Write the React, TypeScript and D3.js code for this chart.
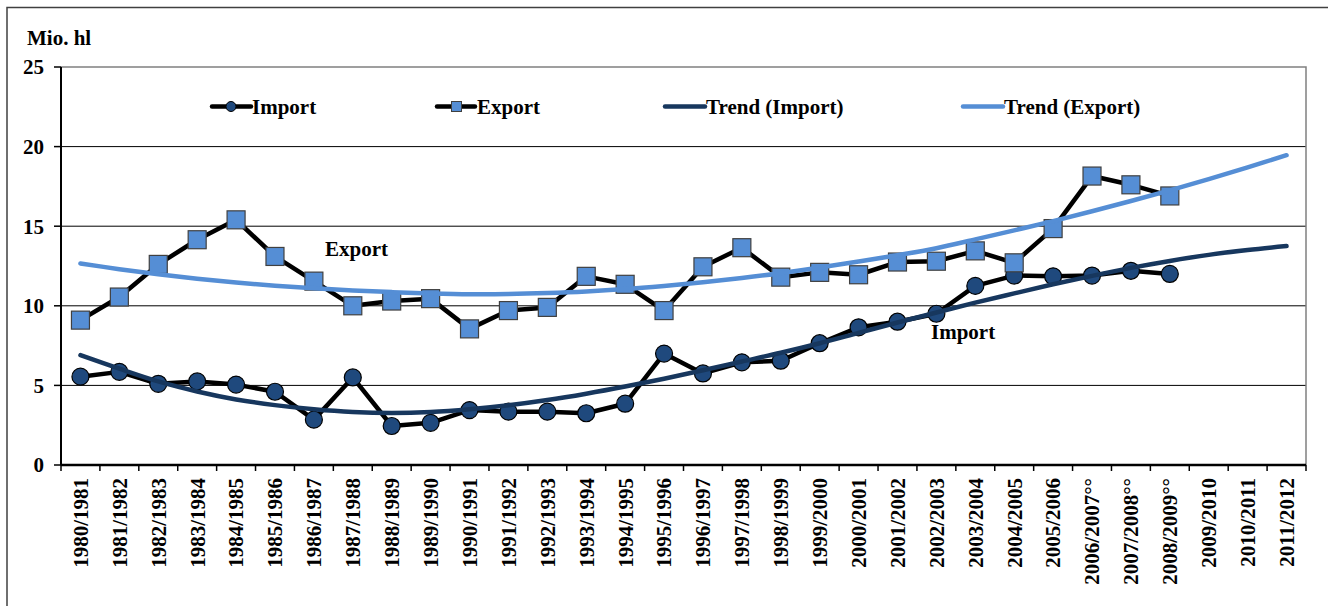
import React, { useEffect, useRef } from "react";
import * as d3 from "d3";

const seasons = [
  "1980/1981", "1981/1982", "1982/1983", "1983/1984", "1984/1985", "1985/1986",
  "1986/1987", "1987/1988", "1988/1989", "1989/1990", "1990/1991", "1991/1992",
  "1992/1993", "1993/1994", "1994/1995", "1995/1996", "1996/1997", "1997/1998",
  "1998/1999", "1999/2000", "2000/2001", "2001/2002", "2002/2003", "2003/2004",
  "2004/2005", "2005/2006", "2006/2007°°", "2007/2008°°", "2008/2009°°",
  "2009/2010", "2010/2011", "2011/2012",
];

// Mio. hl, 1980/1981 .. 2008/2009
const importValues = [
  5.55, 5.85, 5.1, 5.25, 5.05, 4.6, 2.85, 5.5, 2.45, 2.65, 3.45, 3.35, 3.35, 3.25,
  3.85, 7.0, 5.75, 6.45, 6.55, 7.65, 8.65, 9.0, 9.5, 11.25, 11.9, 11.85, 11.9, 12.2, 12.0,
];
const exportValues = [
  9.1, 10.55, 12.6, 14.15, 15.4, 13.1, 11.55, 10.0, 10.3, 10.45, 8.55, 9.7, 9.9, 11.85,
  11.35, 9.7, 12.45, 13.65, 11.8, 12.1, 11.95, 12.75, 12.8, 13.45, 12.7, 14.85, 18.15, 17.6, 16.9,
];

// trend lines, 1980/1981 .. 2011/2012
const importTrend = [
  6.9, 6.05, 5.25, 4.62, 4.12, 3.76, 3.5, 3.33, 3.27, 3.33, 3.5, 3.75, 4.08, 4.48, 4.93, 5.42,
  5.95, 6.5, 7.05, 7.65, 8.3, 8.95, 9.58, 10.2, 10.78, 11.35, 11.88, 12.38, 12.82, 13.2, 13.5, 13.75,
];
const exportTrend = [
  12.66, 12.3, 11.98, 11.7, 11.46, 11.26, 11.1, 10.96, 10.86, 10.78, 10.73, 10.74, 10.8, 10.9,
  11.05, 11.25, 11.48, 11.75, 12.05, 12.4, 12.78, 13.18, 13.62, 14.17, 14.74, 15.32, 15.94,
  16.58, 17.25, 17.96, 18.7, 19.46,
];

const yTicks = [0, 5, 10, 15, 20, 25];

const FONT = "Liberation Serif, Times New Roman, serif";
const IMPORT_FILL = "#1f497d";
const EXPORT_FILL = "#558ed5";
const IMPORT_TREND = "#17375e";

export default function App() {
  const ref = useRef<SVGSVGElement>(null);

  useEffect(() => {
    const width = 1328;
    const height = 606;
    const left = 61, right = 1306, top = 67, bottom = 465;

    const svg = d3.select(ref.current)
      .attr("width", width).attr("height", height)
      .attr("font-family", FONT).attr("font-weight", "bold").attr("font-size", 21);
    svg.selectAll("*").remove();

    // outer frame
    svg.append("rect")
      .attr("x", 7).attr("y", 7.5).attr("width", 1340).attr("height", 640)
      .attr("fill", "white").attr("stroke", "#404040").attr("stroke-width", 1.5);

    const x = d3.scaleBand().domain(seasons).range([left, right]).padding(0);
    const y = d3.scaleLinear().domain([0, 25]).range([bottom, top]);
    const cx = (i: number) => (x(seasons[i]) as number) + x.bandwidth() / 2;

    // gridlines
    svg.append("g").selectAll("line")
      .data(yTicks.filter((t) => t > 0 && t < 25))
      .enter().append("line")
      .attr("x1", left).attr("x2", right)
      .attr("y1", (d) => y(d)).attr("y2", (d) => y(d))
      .attr("stroke", "#000").attr("stroke-width", 1);

    // plot border top/right
    svg.append("path")
      .attr("d", `M${left},${y(25)}H${right}V${bottom}`)
      .attr("fill", "none").attr("stroke", "#808080").attr("stroke-width", 1.5);

    // y axis
    svg.append("line")
      .attr("x1", left).attr("x2", left).attr("y1", top).attr("y2", bottom)
      .attr("stroke", "#000").attr("stroke-width", 2);
    const yt = svg.append("g");
    yt.selectAll("line").data(yTicks).enter().append("line")
      .attr("x1", left - 7).attr("x2", left)
      .attr("y1", (d) => y(d)).attr("y2", (d) => y(d))
      .attr("stroke", "#000").attr("stroke-width", 1.5);
    yt.selectAll("text").data(yTicks).enter().append("text")
      .attr("x", 44).attr("y", (d) => y(d)).attr("dy", "0.35em")
      .attr("text-anchor", "end")
      .text((d) => d);

    svg.append("text")
      .attr("x", 27).attr("y", 45)
      .text("Mio. hl");

    // x axis
    svg.append("line")
      .attr("x1", left).attr("x2", right).attr("y1", bottom).attr("y2", bottom)
      .attr("stroke", "#000").attr("stroke-width", 2.5);
    const bounds = seasons.map((s) => x(s) as number).concat([right]);
    svg.append("g").selectAll("line").data(bounds).enter().append("line")
      .attr("x1", (d) => d).attr("x2", (d) => d)
      .attr("y1", bottom).attr("y2", bottom + 6)
      .attr("stroke", "#000").attr("stroke-width", 1.5);
    svg.append("g").selectAll("text").data(seasons).enter().append("text")
      .attr("transform", (d, i) => `translate(${cx(i)},${bottom + 13}) rotate(-90)`)
      .attr("dy", "0.35em")
      .attr("text-anchor", "end")
      .text((d) => d);

    const line = d3.line<number>().x((d, i) => cx(i)).y((d) => y(d));
    const trend = d3.line<number>().x((d, i) => cx(i)).y((d) => y(d)).curve(d3.curveCatmullRom);

    // import series
    svg.append("path").datum(importValues).attr("d", line)
      .attr("fill", "none").attr("stroke", "#000").attr("stroke-width", 4.5)
      .attr("stroke-linejoin", "round");
    svg.append("g").selectAll("circle").data(importValues).enter().append("circle")
      .attr("cx", (d, i) => cx(i)).attr("cy", (d) => y(d)).attr("r", 8.5)
      .attr("fill", IMPORT_FILL).attr("stroke", "#000").attr("stroke-width", 1.2);

    // export series
    svg.append("path").datum(exportValues).attr("d", line)
      .attr("fill", "none").attr("stroke", "#000").attr("stroke-width", 4.5)
      .attr("stroke-linejoin", "round");
    svg.append("g").selectAll("rect").data(exportValues).enter().append("rect")
      .attr("x", (d, i) => cx(i) - 9).attr("y", (d) => y(d) - 9)
      .attr("width", 18).attr("height", 18)
      .attr("fill", EXPORT_FILL).attr("stroke", "#404040").attr("stroke-width", 1.2);

    // trends
    svg.append("path").datum(importTrend).attr("d", trend)
      .attr("fill", "none").attr("stroke", IMPORT_TREND).attr("stroke-width", 4.5)
      .attr("stroke-linecap", "round");
    svg.append("path").datum(exportTrend).attr("d", trend)
      .attr("fill", "none").attr("stroke", EXPORT_FILL).attr("stroke-width", 4.5)
      .attr("stroke-linecap", "round");

    // annotations
    svg.append("text").attr("x", 325).attr("y", 256).text("Export");
    svg.append("text").attr("x", 931).attr("y", 339).text("Import");

    // legend
    const ly = 106.5;
    const lg = svg.append("g");
    const items = [
      { label: "Import", x0: 212, x1: 251, text: 252 },
      { label: "Export", x0: 437, x1: 475, text: 477 },
      { label: "Trend (Import)", x0: 665, x1: 705, text: 706 },
      { label: "Trend (Export)", x0: 963, x1: 1003, text: 1004 },
    ];
    const lineColors = ["#000", "#000", IMPORT_TREND, EXPORT_FILL];
    items.forEach((it, k) => {
      lg.append("line")
        .attr("x1", it.x0).attr("x2", it.x1).attr("y1", ly).attr("y2", ly)
        .attr("stroke", lineColors[k]).attr("stroke-width", 4.5)
        .attr("stroke-linecap", "round");
      lg.append("text").attr("x", it.text).attr("y", ly).attr("dy", "0.35em")
        .text(it.label);
    });
    lg.append("circle").attr("cx", 231).attr("cy", ly).attr("r", 5)
      .attr("fill", IMPORT_FILL).attr("stroke", "#000").attr("stroke-width", 1);
    lg.append("rect").attr("x", 451.5).attr("y", ly - 5).attr("width", 10).attr("height", 10)
      .attr("fill", EXPORT_FILL).attr("stroke", "#404040").attr("stroke-width", 1);
  }, []);

  return (
    <div style={{ position: "absolute", left: 0, top: 0 }}>
      <svg ref={ref} style={{ display: "block" }}></svg>
    </div>
  );
}
